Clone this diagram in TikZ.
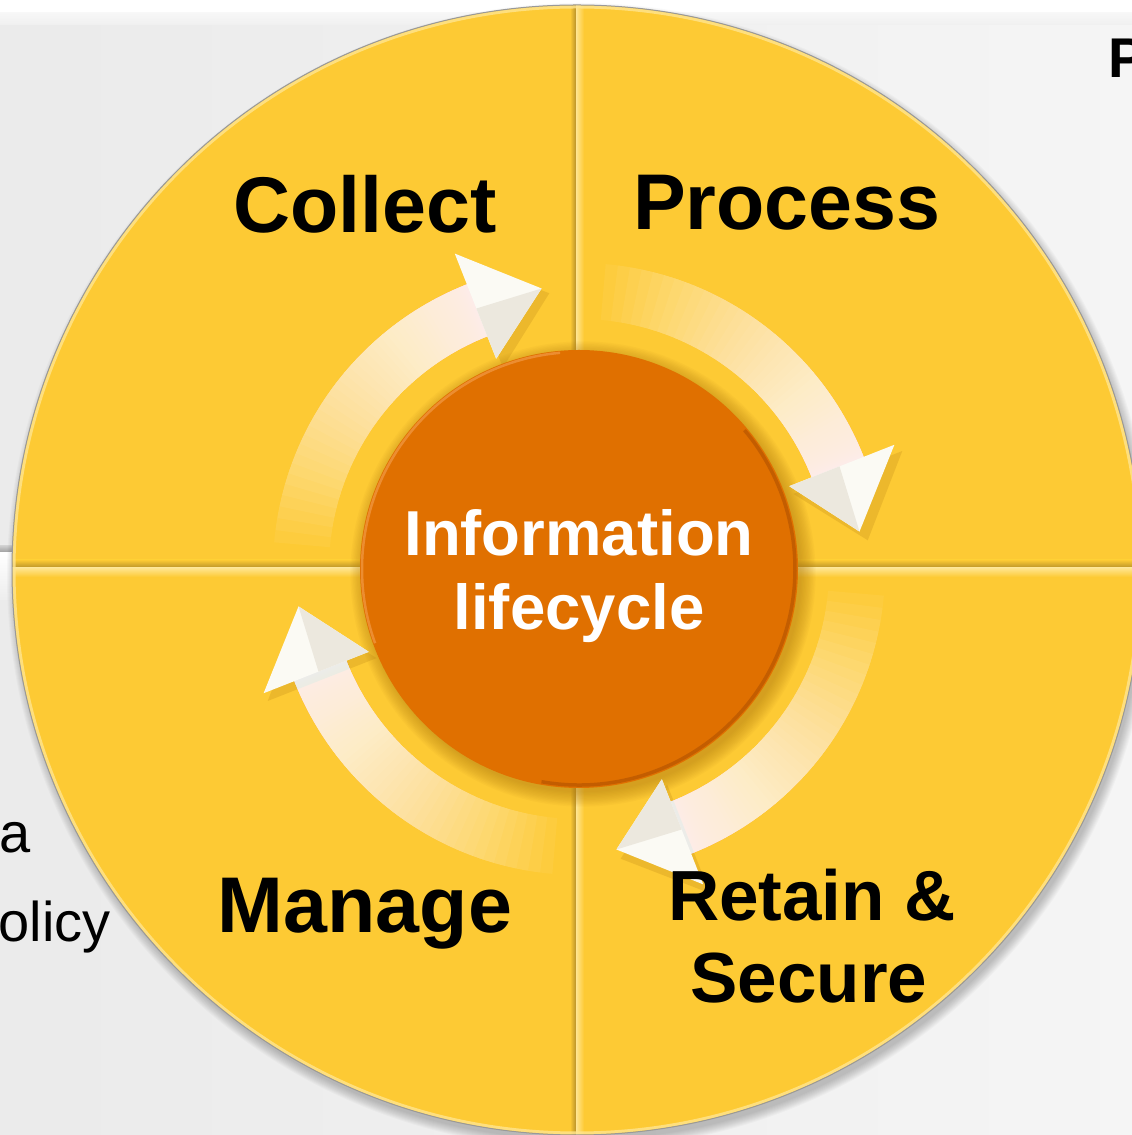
\documentclass[tikz,border=0pt]{standalone}
\usepackage{fontspec}
\setmainfont{Liberation Sans}
\definecolor{yel}{HTML}{FDCA34}
\definecolor{yeldark}{HTML}{B8922A}
\definecolor{yellight}{HTML}{FFE590}
\definecolor{orng}{HTML}{E07000}
\definecolor{orngdark}{HTML}{B85600}
\definecolor{ornglight}{HTML}{F0953E}
\definecolor{headcol}{HTML}{FBFAF4}
\definecolor{headshade}{HTML}{ECE8DE}
\definecolor{shadowyel}{HTML}{B07A10}
\begin{document}
\begin{tikzpicture}[x=1pt,y=1pt,
  phase/.style={inner sep=0pt, anchor=base, font=\fontsize{79}{90}\selectfont\bfseries, text=black},
  phasesm/.style={inner sep=0pt, anchor=base, font=\fontsize{71}{82}\selectfont\bfseries, text=black},
  centre/.style={inner sep=0pt, anchor=base, font=\fontsize{63.5}{74}\selectfont\bfseries, text=white},
  sidetext/.style={inner sep=0pt, font=\fontsize{56}{66}\selectfont, text=black}]
\useasboundingbox (0,0) rectangle (1132,1135);
\begin{scope}
\clip (0,0) rectangle (1132,1135);
% background
\shade[left color=black!8, right color=black!4] (0,0) rectangle (1132,1135);
\shade[top color=white, bottom color=black!6] (0,1110) rectangle (1132,1135);
\fill[white] (0,1123) rectangle (1132,1135);
% left rule
\shade[top color=black!20, bottom color=black!40] (0,582) rectangle (14,589);
\shade[top color=white, bottom color=black!7] (0,535) rectangle (14,582);
% big circle shadow
\foreach \j in {1,...,10}{\fill[black, opacity=0.025] (580,559) circle (563+\j);}
% big circle
\coordinate (bigc) at (577,565);
\fill[yel] (bigc) circle (565);
\begin{scope}
\clip (bigc) circle (565);
% horizontal divider
\shade[top color=yel, bottom color=yeldark] (0,567) rectangle (1132,575);
\shade[top color=yellight, bottom color=yel] (0,558) rectangle (1132,567);
% vertical divider
\shade[left color=yel, right color=yeldark] (570,0) rectangle (576,1135);
\shade[left color=yellight, right color=yel] (576,0) rectangle (584,1135);
\draw[yellight, line width=3, opacity=0.8] (bigc) circle (563);
\end{scope}
\draw[black!40, line width=1] (bigc) circle (565);
% orange circle shadow
\foreach \j in {1,...,12}{\fill[shadowyel, opacity=0.05] (583,561) circle (217+\j*1.3);}
% arrows
\foreach \k in {0,1,2,3}{
  \begin{scope}[shift={(585,559)}, rotate=-90*\k]
    \fill[shadowyel, opacity=0.22] (111.5:341) -- (97.2:285) -- (111.5:224) -- cycle;
  \end{scope}
  \begin{scope}[shift={(579,566)}, rotate=-90*\k]
    \foreach \i in {0,...,59}{
      \pgfmathsetmacro\a{111+64*((60-\i)/60)^2.2}
      \fill[white, opacity=0.05] (\a:250) arc[start angle=\a, end angle=111, radius=250]
        -- (111:306) arc[start angle=111, end angle=\a, radius=306] -- cycle;
    }
    \fill[headcol] (111.5:339) -- (97.6:283) -- (111.5:226) -- cycle;
    \fill[headshade] (97.6:283) -- (111.5:226) -- (111.5:280) -- cycle;
  \end{scope}
}
% orange circle
\node[circle, fill=orng, minimum size=438, inner sep=0pt] (core) at (579,566) {};
\draw[orngdark, line width=3.5, opacity=0.7] (core.center) ++(-100:216) arc[start angle=-100, end angle=40, radius=216];
\draw[ornglight, line width=2.5, opacity=0.8] (core.center) ++(95:217) arc[start angle=95, end angle=200, radius=217];
% texts
\node[phase] (collect) at (365,902) {Collect};
\node[phase] (process) at (787,905) {Process};
\node[phase] (manage) at (365,202) {Manage};
\node[phasesm] (retain) at (812,214) {Retain \&};
\node[phasesm] (secure) at (809,132) {Secure};
\node[centre] (info) at (579,579) {Information};
\node[centre] (life) at (579,505) {lifecycle};
\node[sidetext, anchor=base east] (sideA) at (31,282) {ta};
\node[sidetext, anchor=base east] (sideB) at (111,193) {policy};
\node[sidetext, anchor=base west, font=\fontsize{56}{66}\selectfont\bfseries] (sideP) at (1108,1057) {P};
\end{scope}
\end{tikzpicture}
\end{document}
